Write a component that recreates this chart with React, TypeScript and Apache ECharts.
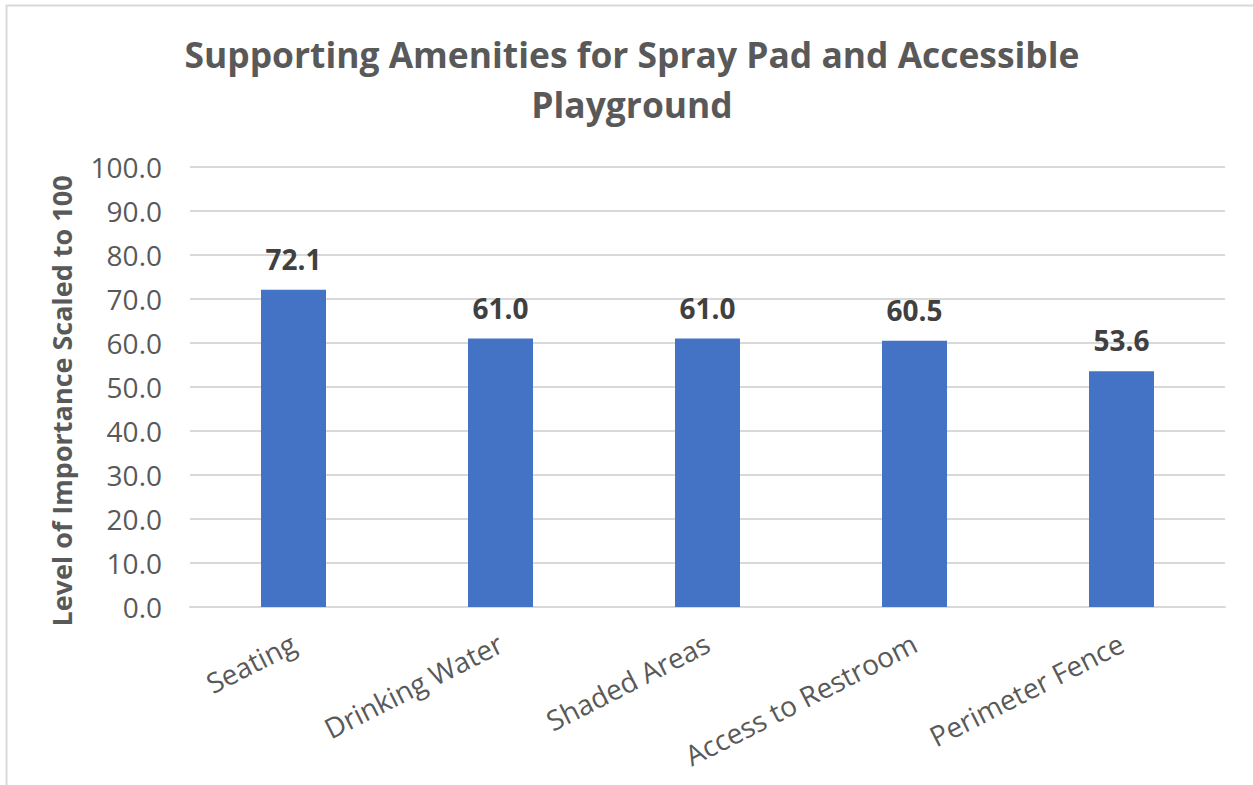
import React, { useEffect, useRef } from "react";
import * as echarts from "echarts";

const categories = ["Seating", "Drinking Water", "Shaded Areas", "Access to Restroom", "Perimeter Fence"];
const values = [72.1, 61.0, 61.0, 60.5, 53.6];
const titleText = "Supporting Amenities for Spray Pad and Accessible\nPlayground";
const yAxisName = "Level of Importance Scaled to 100";

const FONT = "'Open Sans', sans-serif";

export default function App() {
  const ref = useRef<HTMLDivElement>(null);
  useEffect(() => {
    if (!ref.current) return;
    const chart = echarts.init(ref.current, null, { renderer: "svg" });
    chart.setOption({
      animation: false,
      backgroundColor: "#ffffff",
      textStyle: { fontFamily: FONT },
      title: {
        text: titleText,
        left: 627,
        top: 24,
        textAlign: "center",
        textStyle: {
          fontFamily: FONT,
          fontSize: 35.4,
          fontWeight: "bold",
          color: "#595959",
          lineHeight: 50,
        },
      },
      graphic: [
        {
          type: "rect",
          shape: { x: 6.5, y: 5.5, width: 1300, height: 900 },
          style: { fill: "none", stroke: "#d9d9d9", lineWidth: 2 },
          silent: true,
        },
        {
          type: "text",
          x: 61,
          y: 401,
          rotation: Math.PI / 2,
          style: {
            text: yAxisName,
            align: "center",
            verticalAlign: "middle",
            fontFamily: FONT,
            fontSize: 27,
            fontWeight: "bold",
            fill: "#595959",
          },
          silent: true,
        },
      ],
      grid: { left: 190, right: 28, top: 167, bottom: 178, containLabel: false },
      xAxis: {
        type: "category",
        data: categories,
        axisLine: { show: true, lineStyle: { color: "#d9d9d9", width: 2 } },
        axisTick: { show: false },
        axisLabel: {
          rotate: 27,
          interval: 0,
          margin: 34,
          fontSize: 28,
          fontFamily: FONT,
          color: "#595959",
        },
      },
      yAxis: {
        type: "value",
        min: 0,
        max: 100,
        interval: 10,
        axisLine: { show: false },
        axisTick: { show: false },
        splitLine: { lineStyle: { color: "#d9d9d9", width: 2 } },
        axisLabel: {
          fontSize: 28,
          fontFamily: FONT,
          color: "#595959",
          margin: 28,
          formatter: (v: number) => v.toFixed(1),
        },
      },
      series: [
        {
          type: "bar",
          data: values,
          barWidth: 65,
          itemStyle: { color: "#4472c4" },
          label: {
            show: true,
            position: "top",
            distance: 17,
            fontSize: 28,
            fontWeight: "bold",
            fontFamily: FONT,
            color: "#404040",
            formatter: (p: any) => Number(p.value).toFixed(1),
          },
        },
      ],
    });
    return () => chart.dispose();
  }, []);
  return (
    <div
      ref={ref}
      style={{ position: "fixed", left: 0, top: 0, width: 1253, height: 785 }}
    />
  );
}
